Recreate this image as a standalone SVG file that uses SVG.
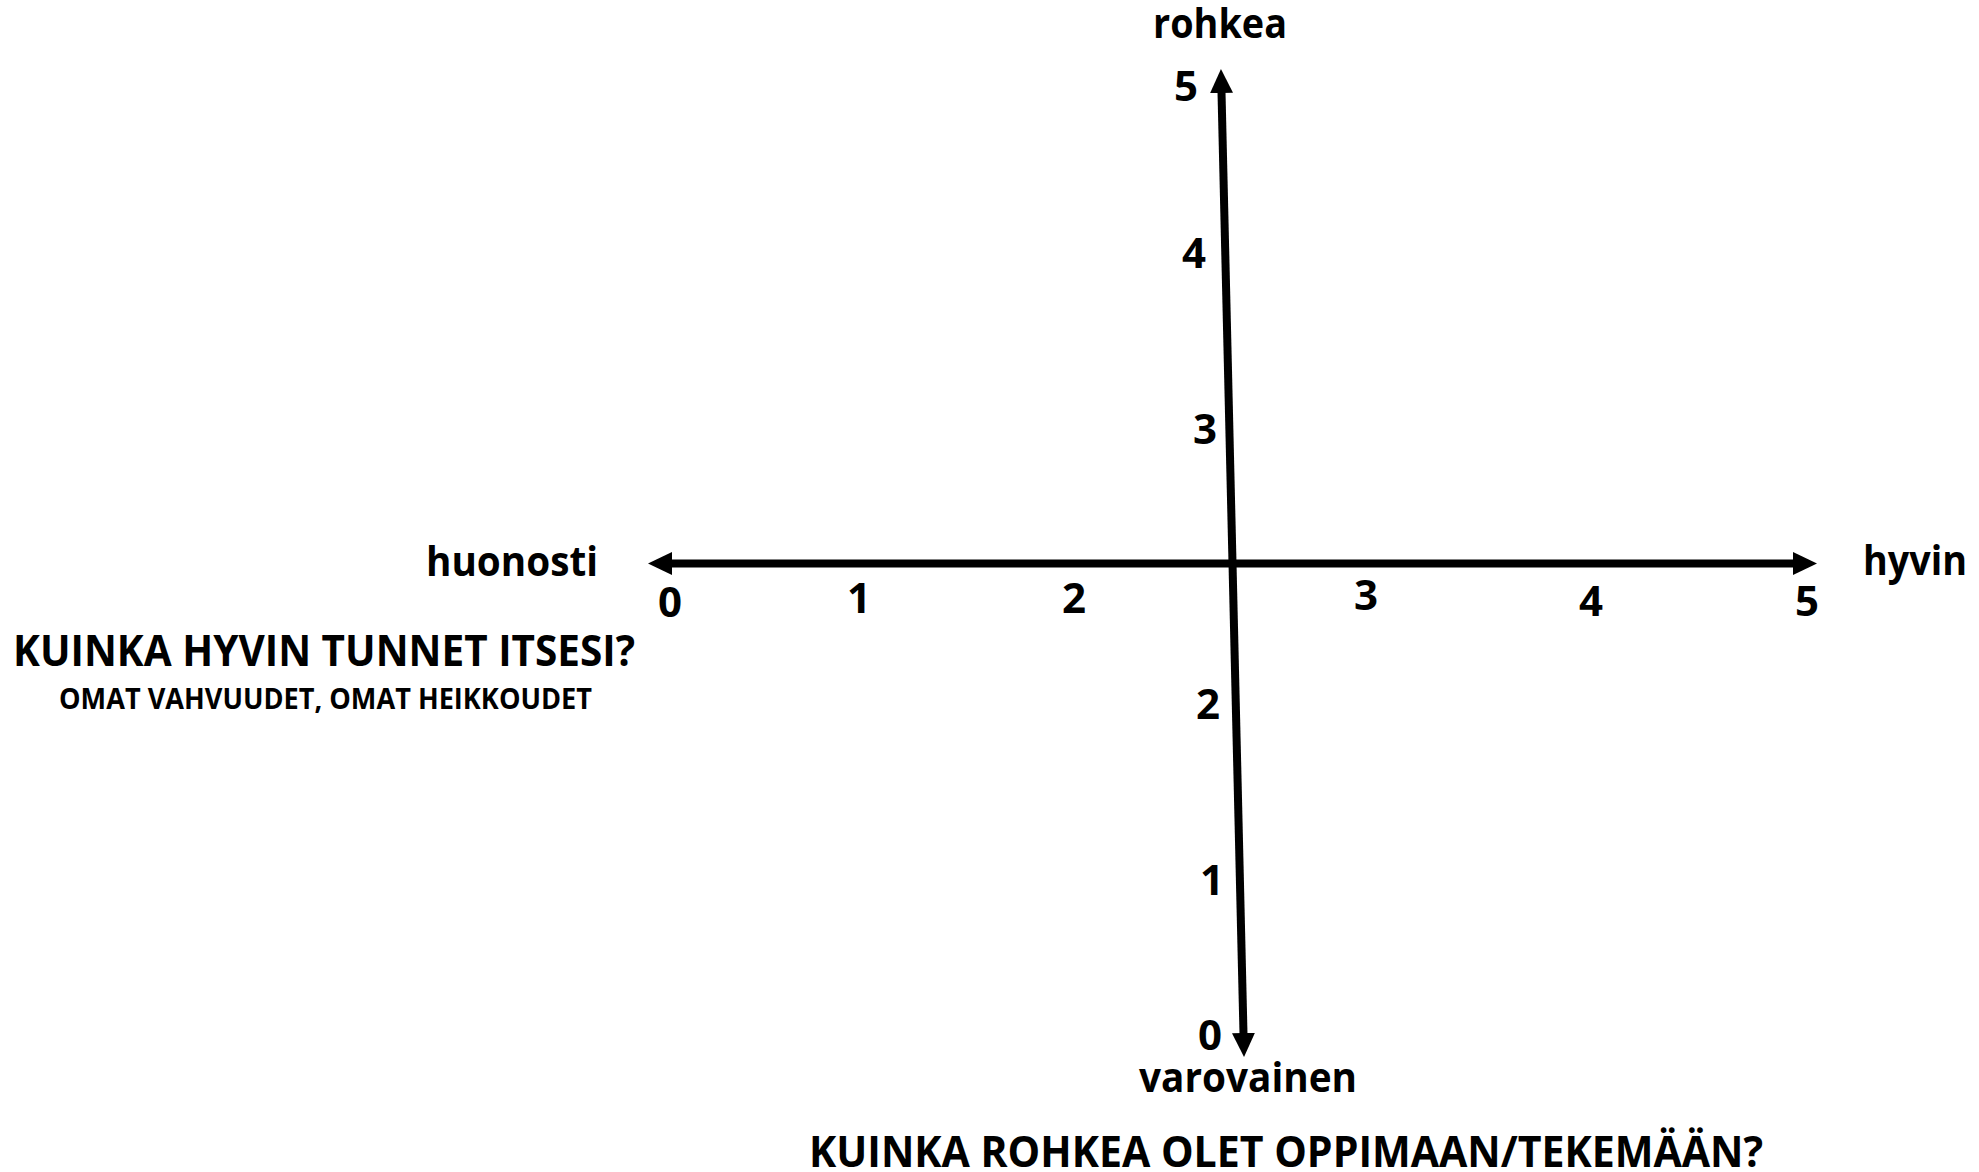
<svg xmlns="http://www.w3.org/2000/svg" width="1979" height="1172" viewBox="0 0 1979 1172">
  <style>
    .t { font-family: "Open Sans", "Liberation Sans", sans-serif; font-weight: 700; fill: #000; }
    .lbl { font-size: 42px; }
    .num { font-size: 42px; text-anchor: middle; }
    .head { font-size: 43px; }
    .sub { font-size: 28px; }
    .axis { stroke: #000; stroke-width: 8; fill: none; }
  </style>
  <defs>
    <marker id="arrow" markerUnits="userSpaceOnUse" markerWidth="26" markerHeight="26" viewBox="0 -13 26 26" refX="1" refY="0" orient="auto-start-reverse">
      <path d="M0,-11.5 L24,0 L0,11.5 z" fill="#000"/>
    </marker>
  </defs>

  <g id="connectors">
    <line id="x-axis" class="axis" x1="671" y1="563.5" x2="1794" y2="563.5" marker-start="url(#arrow)" marker-end="url(#arrow)"/>
    <line id="y-axis" class="axis" x1="1221.5" y1="92" x2="1243.5" y2="1034" marker-start="url(#arrow)" marker-end="url(#arrow)"/>
  </g>

  <g id="label-rohkea"><text class="t lbl" x="1153" y="38" textLength="134" lengthAdjust="spacingAndGlyphs">rohkea</text></g>
  <g id="label-varovainen"><text class="t lbl" x="1139" y="1092" textLength="218" lengthAdjust="spacingAndGlyphs">varovainen</text></g>
  <g id="label-huonosti"><text class="t lbl" x="426" y="576" textLength="172" lengthAdjust="spacingAndGlyphs">huonosti</text></g>
  <g id="label-hyvin"><text class="t lbl" x="1863" y="575" textLength="104" lengthAdjust="spacingAndGlyphs">hyvin</text></g>

  <g id="x-ticks">
    <text class="t num" x="670" y="617">0</text>
    <text class="t num" x="859" y="613">1</text>
    <text class="t num" x="1074" y="613">2</text>
    <text class="t num" x="1366" y="610">3</text>
    <text class="t num" x="1591" y="616">4</text>
    <text class="t num" x="1807" y="616">5</text>
  </g>

  <g id="y-ticks">
    <text class="t num" x="1186" y="101">5</text>
    <text class="t num" x="1194" y="268">4</text>
    <text class="t num" x="1205" y="444">3</text>
    <text class="t num" x="1208" y="719">2</text>
    <text class="t num" x="1212" y="895">1</text>
    <text class="t num" x="1210" y="1050">0</text>
  </g>

  <g id="title-x">
    <text class="t head" x="13" y="666" textLength="622" lengthAdjust="spacingAndGlyphs">KUINKA HYVIN TUNNET ITSESI?</text>
    <text class="t sub" x="59" y="709" textLength="533" lengthAdjust="spacingAndGlyphs">OMAT VAHVUUDET, OMAT HEIKKOUDET</text>
  </g>

  <g id="title-y">
    <text class="t head" x="809" y="1167" textLength="954" lengthAdjust="spacingAndGlyphs">KUINKA ROHKEA OLET OPPIMAAN/TEKEMÄÄN?</text>
  </g>
</svg>
